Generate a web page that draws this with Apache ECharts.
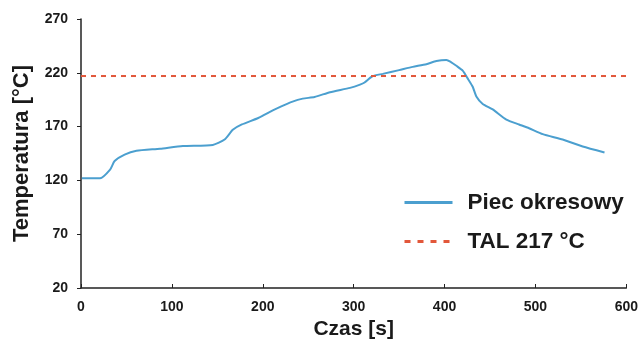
<!DOCTYPE html>
<html>
<head>
<meta charset="utf-8">
<script src="https://cdn.jsdelivr.net/npm/echarts@6/dist/echarts.min.js"></script>
<style>
  html, body { margin: 0; padding: 0; background: #fff; }
  #chart { width: 641px; height: 345px; }
</style>
</head>
<body>
<div id="chart"></div>
<script>
// czas [s] i temperatura [°C] - piec okresowy
var timeS = [1, 21, 32, 37, 48, 61, 87, 112, 145, 158, 167, 177, 195, 211, 221, 232, 244, 257, 274, 296, 307,
  312, 321, 332, 350, 365, 380, 391, 402, 407, 413, 420, 426, 431, 435, 442, 453, 468, 482, 493, 508, 530, 552, 576];
var tempC = [122, 122, 130, 138, 144, 147.5, 149.5, 152, 153, 158, 167, 172, 178, 185, 189, 193, 196, 197.5, 202, 206, 209,
  211, 217, 219, 222.5, 225.5, 228, 231, 232, 230, 226.5, 222, 214, 207, 198, 191, 186, 176.5, 172, 168.5, 163, 158, 151.5, 146];
// linia TAL
var talTime = [0, 600];
var talTemp = [217, 217];

var xTicks = [0, 100, 200, 300, 400, 500, 600];
var yTicks = [20, 70, 120, 170, 220, 270];

function pairs(xs, ys) {
  var out = [];
  for (var i = 0; i < xs.length; i++) out.push([xs[i], ys[i]]);
  return out;
}

var font = "'Liberation Sans', Arial, sans-serif";
var myChart = echarts.init(document.getElementById("chart"));
var option = {
  animation: false,
  grid: { left: 81, right: 14, top: 19, bottom: 51 },
  legend: {
    orient: "vertical",
    left: 398,
    top: 186,
    itemWidth: 48,
    itemHeight: 14,
    itemGap: 16,
    itemStyle: { opacity: 0 },
    lineStyle: { width: 3 },
    textStyle: { fontFamily: font, fontWeight: "bold", fontSize: 22.5, color: "#1a1a1a", padding: [0, 0, 0, 10] },
    data: [
      { name: "Piec okresowy" },
      { name: "TAL 217 °C", lineStyle: { width: 3, type: [6, 7] } }
    ]
  },
  xAxis: {
    type: "value",
    min: xTicks[0],
    max: xTicks[xTicks.length - 1],
    interval: 100,
    name: "Czas [s]",
    nameLocation: "middle",
    nameGap: 31,
    nameTextStyle: { fontFamily: font, fontWeight: "bold", fontSize: 21, color: "#1a1a1a" },
    splitLine: { show: false },
    axisLine: { lineStyle: { color: "#222", width: 1.5 } },
    axisTick: { inside: true, length: 4, lineStyle: { color: "#222" } },
    axisLabel: { fontFamily: font, fontWeight: "bold", fontSize: 14, color: "#1a1a1a", margin: 12 }
  },
  yAxis: {
    type: "value",
    min: yTicks[0],
    max: yTicks[yTicks.length - 1],
    interval: 50,
    name: "Temperatura [°C]",
    nameLocation: "middle",
    nameGap: 48,
    nameTextStyle: { fontFamily: font, fontWeight: "bold", fontSize: 22, color: "#1a1a1a" },
    splitLine: { show: false },
    axisLine: { show: true, lineStyle: { color: "#222", width: 1.5 } },
    axisTick: { show: true, length: 4, lineStyle: { color: "#222" } },
    axisLabel: { fontFamily: font, fontWeight: "bold", fontSize: 14, color: "#1a1a1a", margin: 13 }
  },
  series: [
    {
      name: "Piec okresowy",
      type: "line",
      showSymbol: false,
      symbol: "none",
      smooth: 0.2,
      lineStyle: { color: "#4b9fcf", width: 2 },
      itemStyle: { color: "#4b9fcf" },
      data: pairs(timeS, tempC)
    },
    {
      name: "TAL 217 °C",
      type: "line",
      showSymbol: false,
      symbol: "none",
      lineStyle: { color: "#e2573a", width: 2, type: [5, 5] },
      itemStyle: { color: "#e2573a" },
      data: pairs(talTime, talTemp)
    }
  ]
};
myChart.setOption(option);
</script>
</body>
</html>
